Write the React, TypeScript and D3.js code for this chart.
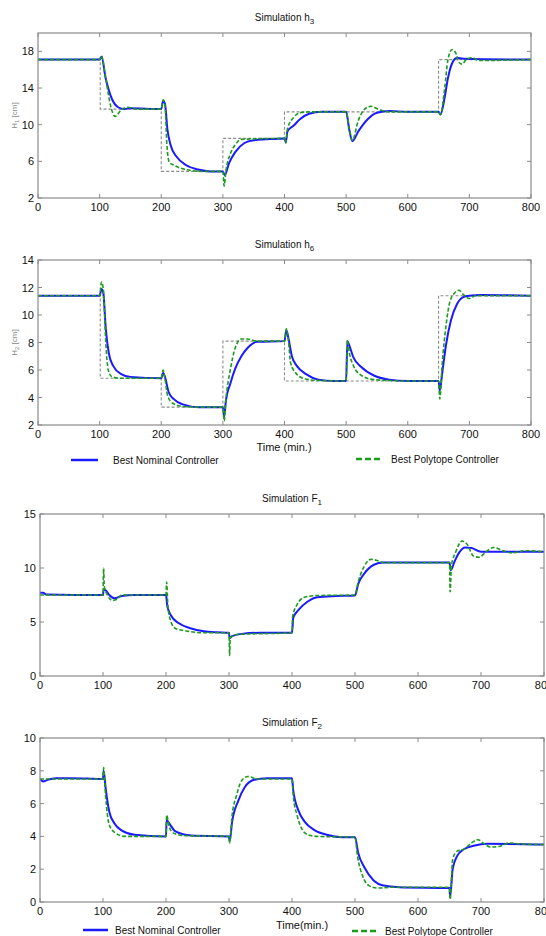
import React, { useEffect, useRef } from 'react';
import * as d3 from 'd3';

type Pt = [number, number];

// time ticks (min.)
const timeTicks = [0, 100, 200, 300, 400, 500, 600, 700, 800];

// reference set-points (step changes)
const h3RefTimes = [0, 101, 200, 300, 400, 650, 800];
const h3RefLevels = [17.1, 11.7, 4.9, 8.5, 11.4, 17.1, 17.1];
const h6RefTimes = [0, 101, 200, 300, 400, 650, 800];
const h6RefLevels = [11.4, 5.4, 3.3, 8.1, 5.2, 11.4, 11.4];

// Simulation h3
const h3Nominal: Pt[] = [
  [0, 17.1], [100, 17.1], [103, 17.4], [110, 15], [120, 12.8], [130, 11.9], [140, 11.7], [150, 11.8],
  [200, 11.7], [203, 12.6], [206, 12.3], [210, 9.5], [215, 7.8], [225, 6.5], [240, 5.6], [260, 5.1],
  [280, 4.9], [300, 4.9], [303, 4.5], [310, 5.8], [320, 7], [335, 8], [350, 8.3], [370, 8.4], [400, 8.5],
  [402, 8.1], [405, 9.3], [415, 9.9], [425, 10.6], [440, 11.2], [460, 11.4], [500, 11.4], [505, 9.5],
  [510, 8.2], [520, 9.3], [535, 10.6], [550, 11.3], [570, 11.5], [600, 11.4], [650, 11.4], [653, 11.1],
  [660, 13], [665, 15], [672, 16.7], [680, 17.3], [690, 17.2], [800, 17.1],
];
const h3Polytope: Pt[] = [
  [0, 17.1], [100, 17.1], [103, 17.5], [110, 15], [118, 12], [125, 10.9], [135, 11.6], [145, 11.9],
  [160, 11.7], [200, 11.7], [203, 12.7], [206, 12.2], [209, 8], [213, 5.9], [220, 5.6], [240, 5.1],
  [270, 4.9], [300, 4.9], [302, 3.3], [305, 5], [312, 6.8], [320, 7.8], [330, 8.4], [400, 8.5],
  [402, 8.0], [405, 9.6], [415, 10.8], [425, 11.3], [440, 11.4], [500, 11.4], [505, 9.6], [510, 8.3],
  [520, 10.5], [530, 11.7], [540, 12.0], [555, 11.6], [570, 11.4], [650, 11.4], [653, 11.1], [660, 14],
  [665, 17], [672, 18.2], [678, 17.8], [683, 16.8], [688, 16.6], [695, 17.1], [705, 17.3], [715, 17.0],
  [800, 17.1],
];

// Simulation h6
const h6Nominal: Pt[] = [
  [0, 11.4], [100, 11.4], [103, 11.9], [106, 11.6], [110, 9], [115, 7.2], [122, 6.3], [135, 5.7],
  [150, 5.5], [200, 5.4], [203, 5.8], [206, 5.5], [212, 4.4], [220, 3.9], [235, 3.5], [260, 3.3],
  [300, 3.3], [302, 2.6], [305, 3.8], [312, 5.0], [320, 6.1], [330, 7.0], [340, 7.6], [355, 8.05],
  [400, 8.1], [403, 8.9], [406, 8.4], [412, 7], [420, 6.3], [435, 5.7], [455, 5.3], [480, 5.2],
  [500, 5.2], [502, 8.1], [505, 7.8], [512, 6.9], [525, 6.2], [545, 5.6], [570, 5.3], [600, 5.2],
  [650, 5.2], [652, 4.5], [656, 5.8], [662, 7.8], [670, 9.6], [680, 10.8], [690, 11.3], [700, 11.4],
  [720, 11.45], [800, 11.4],
];
const h6Polytope: Pt[] = [
  [0, 11.4], [100, 11.4], [103, 12.4], [106, 11.9], [110, 8], [114, 6], [120, 5.5], [135, 5.4],
  [200, 5.4], [203, 6.0], [206, 5.4], [210, 4.2], [218, 3.6], [235, 3.35], [260, 3.3], [300, 3.3],
  [302, 2.3], [305, 3.9], [312, 6], [320, 7.6], [330, 8.25], [340, 8.25], [355, 8.1], [400, 8.1],
  [403, 9.0], [406, 8.3], [410, 6.5], [418, 5.8], [430, 5.4], [450, 5.25], [500, 5.2], [502, 8.2],
  [505, 7.3], [512, 6.3], [525, 5.6], [545, 5.3], [600, 5.2], [650, 5.2], [652, 3.9], [656, 6.5],
  [662, 9.2], [668, 10.9], [676, 11.6], [683, 11.8], [690, 11.5], [700, 11.2], [710, 11.4], [740, 11.4],
  [800, 11.4],
];

// Simulation F1
const f1Nominal: Pt[] = [
  [0, 7.7], [5, 7.7], [10, 7.55], [100, 7.5], [101, 8], [105, 7.9], [110, 7.5], [118, 7.2], [130, 7.4],
  [150, 7.5], [200, 7.5], [202, 6.5], [208, 5.6], [220, 4.9], [240, 4.4], [260, 4.15], [280, 4.05],
  [300, 4.0], [301, 3.5], [305, 3.7], [320, 3.9], [350, 4], [400, 4], [402, 5.4], [410, 6.1], [425, 6.9],
  [440, 7.3], [470, 7.4], [500, 7.45], [505, 8.5], [515, 9.5], [530, 10.3], [545, 10.5], [650, 10.5],
  [652, 9.8], [658, 10.6], [665, 11.4], [675, 11.9], [685, 11.85], [700, 11.5], [750, 11.5], [800, 11.5],
];
const f1Polytope: Pt[] = [
  [0, 7.5], [100, 7.5], [101, 10], [102, 8.3], [107, 7.5], [115, 7.0], [122, 7.1], [130, 7.5],
  [200, 7.5], [201, 8.7], [203, 6.5], [208, 5.0], [215, 4.4], [230, 4.2], [260, 4.0], [300, 4.0],
  [301, 1.9], [302, 3.6], [315, 3.85], [400, 4.0], [401, 5.5], [408, 6.6], [420, 7.3], [440, 7.45],
  [500, 7.5], [505, 8.7], [515, 10.2], [525, 10.8], [535, 10.7], [545, 10.5], [650, 10.5], [651, 7.8],
  [653, 10.2], [660, 11.5], [670, 12.5], [678, 12.2], [688, 11.1], [697, 11.0], [708, 11.5], [720, 11.9],
  [735, 11.6], [750, 11.4], [770, 11.6], [800, 11.5],
];

// Simulation F2
const f2Nominal: Pt[] = [
  [0, 7.5], [5, 7.35], [12, 7.45], [25, 7.55], [50, 7.55], [100, 7.5], [101, 8.0], [104, 7.0],
  [110, 5.5], [118, 4.8], [130, 4.35], [150, 4.1], [200, 4.0], [201, 5.0], [205, 4.8], [215, 4.3],
  [240, 4.05], [300, 4.0], [301, 3.7], [305, 4.9], [315, 6.2], [325, 7.0], [340, 7.45], [360, 7.55],
  [400, 7.55], [402, 6.8], [410, 5.6], [420, 4.9], [435, 4.4], [455, 4.1], [480, 3.95], [500, 3.95],
  [505, 3.0], [515, 2.1], [530, 1.3], [545, 1.0], [570, 0.9], [650, 0.85], [651, 0.3], [655, 2.0],
  [662, 2.8], [672, 3.2], [690, 3.45], [710, 3.55], [800, 3.5],
];
const f2Polytope: Pt[] = [
  [0, 7.5], [100, 7.5], [101, 8.2], [104, 6.5], [110, 4.7], [120, 4.2], [135, 4.0], [200, 4.0],
  [201, 5.3], [205, 4.6], [212, 4.2], [230, 4.05], [300, 4.0], [301, 3.6], [305, 5.3], [312, 6.5],
  [320, 7.4], [330, 7.65], [345, 7.5], [400, 7.5], [402, 6.5], [408, 5.3], [415, 4.5], [425, 4.1],
  [440, 4.0], [500, 3.95], [504, 2.8], [512, 1.6], [522, 1.0], [535, 0.85], [560, 0.9], [650, 0.9],
  [651, 0.15], [655, 2.6], [662, 3.1], [672, 3.2], [685, 3.6], [695, 3.8], [705, 3.55], [715, 3.35],
  [730, 3.4], [745, 3.6], [760, 3.55], [800, 3.5],
];

const FONT = 'Arial, "Liberation Sans", sans-serif';
const BLUE = '#1a1aff';
const GREEN = '#1e9a1e';
const FRAME = '#8a8a8a';

interface PanelSpec {
  title: string;
  sub: string;
  yLabel?: string;
  yLabelSub?: string;
  box: { left: number; right: number; top: number; bottom: number };
  yDomain: [number, number];
  yTicks: number[];
  refTimes?: number[];
  refLevels?: number[];
  nominal: Pt[];
  polytope: Pt[];
}

const panels: PanelSpec[] = [
  {
    title: 'Simulation h', sub: '3', yLabel: 'H', yLabelSub: '1',
    box: { left: 38, right: 531, top: 33, bottom: 198 },
    yDomain: [2, 20], yTicks: [2, 6, 10, 14, 18],
    refTimes: h3RefTimes, refLevels: h3RefLevels, nominal: h3Nominal, polytope: h3Polytope,
  },
  {
    title: 'Simulation h', sub: '6', yLabel: 'H', yLabelSub: '2',
    box: { left: 38, right: 531, top: 260, bottom: 425 },
    yDomain: [2, 14], yTicks: [2, 4, 6, 8, 10, 12, 14],
    refTimes: h6RefTimes, refLevels: h6RefLevels, nominal: h6Nominal, polytope: h6Polytope,
  },
  {
    title: 'Simulation F', sub: '1',
    box: { left: 40, right: 544, top: 514, bottom: 676 },
    yDomain: [0, 15], yTicks: [0, 5, 10, 15],
    nominal: f1Nominal, polytope: f1Polytope,
  },
  {
    title: 'Simulation F', sub: '2',
    box: { left: 40, right: 544, top: 738, bottom: 902 },
    yDomain: [0, 10], yTicks: [0, 2, 4, 6, 8, 10],
    nominal: f2Nominal, polytope: f2Polytope,
  },
];

const App = () => {
  const ref = useRef<SVGSVGElement>(null);

  useEffect(() => {
    const svg = d3.select(ref.current);
    svg.selectAll('*').remove();

    panels.forEach((p) => {
      const { left, right, top, bottom } = p.box;
      const x = d3.scaleLinear().domain([0, 800]).range([left, right]);
      const y = d3.scaleLinear().domain(p.yDomain).range([bottom, top]);
      const g = svg.append('g');

      // title
      const t = g.append('text')
        .attr('x', (left + right) / 2)
        .attr('y', top - 12)
        .attr('text-anchor', 'middle')
        .attr('font-size', 10)
        .attr('fill', '#111')
        .text(p.title);
      t.append('tspan').attr('dy', 3).attr('font-size', 8).text(p.sub);

      // y label
      if (p.yLabel) {
        const yl = g.append('text')
          .attr('transform', `translate(17,${(top + bottom) / 2}) rotate(-90)`)
          .attr('text-anchor', 'middle')
          .attr('font-size', 8)
          .attr('fill', '#888')
          .text(p.yLabel);
        yl.append('tspan').attr('dy', 2).attr('font-size', 6).text(p.yLabelSub!);
        yl.append('tspan').attr('dy', -2).text(' [cm]');
      }

      const clipId = `clip-${p.title.replace(/\s/g, '')}${p.sub}`;
      g.append('clipPath').attr('id', clipId)
        .append('rect').attr('x', left).attr('y', top).attr('width', right - left).attr('height', bottom - top);

      const line = d3.line<Pt>().x((d) => x(d[0])).y((d) => y(d[1])).curve(d3.curveMonotoneX);
      const plot = g.append('g').attr('clip-path', `url(#${clipId})`);

      if (p.refTimes && p.refLevels) {
        const refPts: Pt[] = p.refTimes.map((tm, i) => [tm, p.refLevels![i]]);
        plot.append('path')
          .attr('d', d3.line<Pt>().x((d) => x(d[0])).y((d) => y(d[1])).curve(d3.curveStepAfter)(refPts))
          .attr('fill', 'none').attr('stroke', '#8c8c8c').attr('stroke-width', 1.1)
          .attr('stroke-dasharray', '3,2');
      }
      plot.append('path').attr('d', line(p.nominal))
        .attr('fill', 'none').attr('stroke', BLUE).attr('stroke-width', 2);
      plot.append('path').attr('d', line(p.polytope))
        .attr('fill', 'none').attr('stroke', GREEN).attr('stroke-width', 1.6)
        .attr('stroke-dasharray', '4,2');

      // frame
      g.append('rect').attr('x', left).attr('y', top).attr('width', right - left).attr('height', bottom - top)
        .attr('fill', 'none').attr('stroke', FRAME).attr('stroke-width', 1.2);

      // ticks (inward, all four sides)
      timeTicks.forEach((tv) => {
        g.append('line').attr('x1', x(tv)).attr('x2', x(tv)).attr('y1', bottom).attr('y2', bottom - 4)
          .attr('stroke', FRAME);
        g.append('line').attr('x1', x(tv)).attr('x2', x(tv)).attr('y1', top).attr('y2', top + 4)
          .attr('stroke', FRAME);
        g.append('text').attr('x', x(tv)).attr('y', bottom + 13)
          .attr('text-anchor', 'middle').attr('font-size', 11).attr('fill', '#111')
          .text(tv);
      });
      p.yTicks.forEach((yv) => {
        g.append('line').attr('x1', left).attr('x2', left + 4).attr('y1', y(yv)).attr('y2', y(yv))
          .attr('stroke', FRAME);
        g.append('line').attr('x1', right).attr('x2', right - 4).attr('y1', y(yv)).attr('y2', y(yv))
          .attr('stroke', FRAME);
        g.append('text').attr('x', left - 4).attr('y', y(yv) + 4)
          .attr('text-anchor', 'end').attr('font-size', 11).attr('fill', '#111')
          .text(yv);
      });
    });

    // x-axis titles and legends
    const legends = [
      { label: 'Time (min.)', lx: 284, ly: 451, blue: [71, 98, 460], green: [356, 383, 459], tb: 113, tg: 391 },
      { label: 'Time(min.)', lx: 302, ly: 929, blue: [83, 108, 930], green: [352, 378, 931], tb: 115, tg: 385 },
    ];
    legends.forEach((l) => {
      svg.append('text').attr('x', l.lx).attr('y', l.ly).attr('text-anchor', 'middle')
        .attr('font-size', 11).attr('fill', '#111').text(l.label);
      svg.append('line').attr('x1', l.blue[0]).attr('x2', l.blue[1]).attr('y1', l.blue[2]).attr('y2', l.blue[2])
        .attr('stroke', BLUE).attr('stroke-width', 2.5);
      svg.append('text').attr('x', l.tb).attr('y', l.blue[2] + 4).attr('font-size', 10).attr('fill', '#111')
        .text('Best Nominal Controller');
      svg.append('line').attr('x1', l.green[0]).attr('x2', l.green[1]).attr('y1', l.green[2]).attr('y2', l.green[2])
        .attr('stroke', GREEN).attr('stroke-width', 2.5).attr('stroke-dasharray', '6,3');
      svg.append('text').attr('x', l.tg).attr('y', l.green[2] + 4).attr('font-size', 10).attr('fill', '#111')
        .text('Best Polytope Controller');
    });
  }, []);

  return (
    <div style={{ position: 'absolute', left: 0, top: 0 }}>
      <svg ref={ref} width={546} height={936} style={{ display: 'block', fontFamily: FONT, background: '#fff' }} />
    </div>
  );
};

export default App;
